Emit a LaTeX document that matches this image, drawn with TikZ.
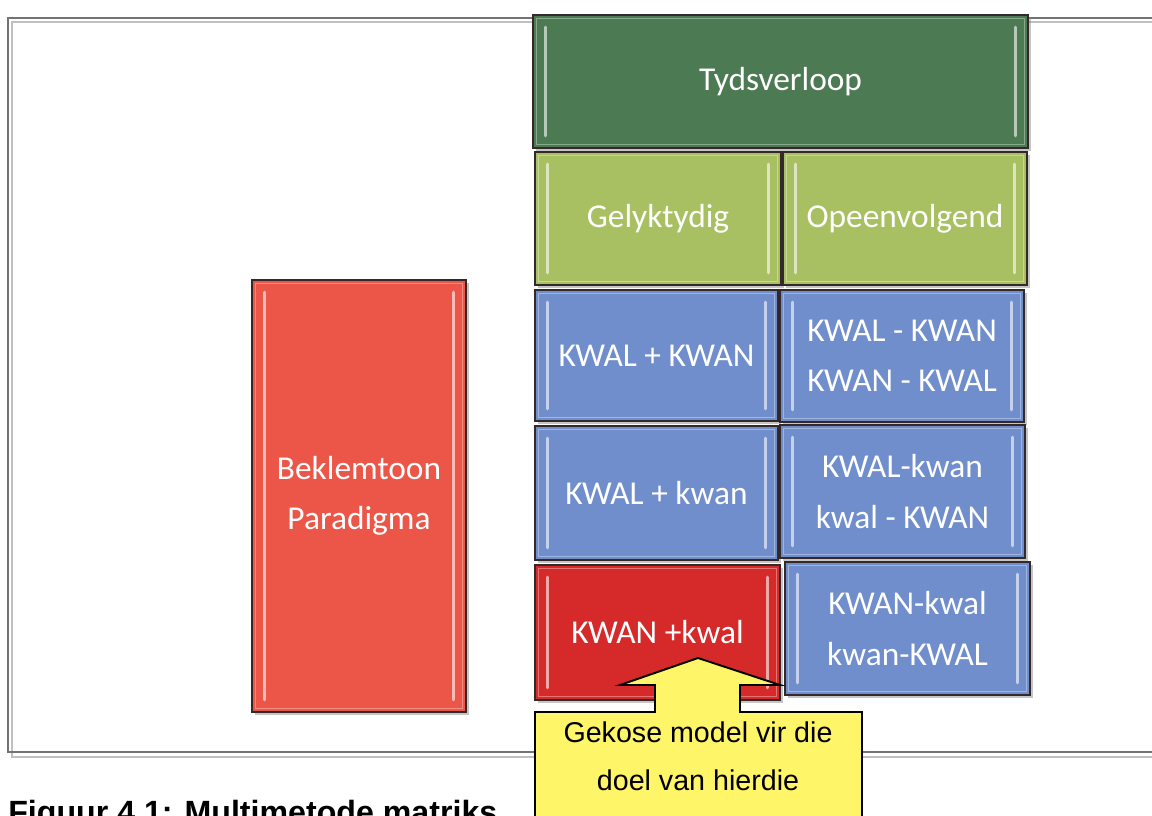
\documentclass[tikz,border=0pt]{standalone}
\usepackage{fontspec}
\usepackage{xcolor}
\usepackage{tikz}
\usetikzlibrary{shadows}
\newfontfamily\boxfont{Carlito}
\newfontfamily\notefont{Liberation Sans}
\definecolor{tydgreen}{RGB}{76,122,82}
\definecolor{tydlime}{RGB}{168,192,98}
\definecolor{kwalblue}{RGB}{112,142,204}
\definecolor{paradred}{RGB}{236,86,72}
\definecolor{modelred}{RGB}{214,42,42}
\definecolor{noteyellow}{RGB}{255,245,104}
\definecolor{tileedge}{RGB}{52,40,40}
\definecolor{framegray}{RGB}{115,115,115}

\begin{document}
\begin{tikzpicture}[x=0.02cm,y=-0.02cm,
	tile/.style={draw=tileedge,line width=1.1pt,text=white,align=center,inner sep=0pt,
		font=\boxfont\fontsize{19}{28.5}\selectfont,
		drop shadow={shadow xshift=1.5pt,shadow yshift=-1.5pt,opacity=0.45},
		path picture={
			\draw[white,opacity=0.35,line width=1pt] ([shift={(2pt,-2pt)}]path picture bounding box.north west) rectangle ([shift={(-2pt,2pt)}]path picture bounding box.south east);
			\draw[white,opacity=0.6,line width=2pt,line cap=round] ([shift={(7pt,-7pt)}]path picture bounding box.north west) -- ([shift={(7pt,7pt)}]path picture bounding box.south west);
			\draw[white,opacity=0.6,line width=2pt,line cap=round] ([shift={(-7pt,-7pt)}]path picture bounding box.north east) -- ([shift={(-7pt,7pt)}]path picture bounding box.south east);
		}},
	notetext/.style={anchor=base,inner sep=0pt,font=\notefont\fontsize{16.3}{20}\selectfont}]
					\useasboundingbox (0,0) rectangle (1152,815);
					\clip (0,0) rectangle (1152,815);
					\fill[white] (0,0) rectangle (1152,815);
					
					\coordinate (c1) at (780.5,81.5);
					\coordinate (c2) at (658,218.5);
					\coordinate (c3) at (905,218.5);
					\coordinate (c4) at (656.5,355.5);
					\coordinate (c5) at (902,356);
					\coordinate (c6) at (656.5,493);
					\coordinate (c7) at (902.5,491.5);
					\coordinate (c8) at (657.5,632.5);
					\coordinate (c9) at (907.5,628.5);
					\coordinate (c10) at (359,496);
					\coordinate (tip) at (698,658);
					
					\draw[color=framegray!45,line width=0.9pt] (12,22) rectangle (1175,757);
					\draw[color=framegray,line width=1.2pt] (8,18) rectangle (1170,752);
					
					\node (tyd) at (c1) [tile,fill=tydgreen,minimum width=9.9cm,minimum height=2.66cm] {Tydsverloop};
					\node (gel) at (c2) [tile,fill=tydlime,minimum width=4.92cm,minimum height=2.66cm] {Gelyktydig};
					\node (ope) at (c3) [tile,fill=tydlime,minimum width=4.88cm,minimum height=2.66cm] {Opeenvolgend};
					\node (gelKK) at (c4) [tile,fill=kwalblue,minimum width=4.86cm,minimum height=2.62cm] {KWAL + KWAN};
					\node (opeKK) at (c5) [tile,fill=kwalblue,minimum width=4.88cm,minimum height=2.64cm] {KWAL - KWAN\\KWAN - KWAL};
					\node (gelKk) at (c6) [tile,fill=kwalblue,minimum width=4.86cm,minimum height=2.68cm] {KWAL + kwan};
					\node (opeKk) at (c7) [tile,fill=kwalblue,minimum width=4.9cm,minimum height=2.66cm] {KWAL-kwan\\kwal - KWAN};
					\node (gelkK) at (c8) [tile,fill=modelred,minimum width=4.9cm,minimum height=2.7cm] {KWAN +kwal};
					\node (opekK) at (c9) [tile,fill=kwalblue,minimum width=4.9cm,minimum height=2.66cm] {KWAN-kwal\\kwan-KWAL};
					\node (bek) at (c10) [tile,fill=paradred,minimum width=4.28cm,minimum height=8.64cm] {Beklemtoon\\Paradigma};
					
					\draw[fill=noteyellow,draw=black,line width=1.1pt] (535,712) -- (655,712) -- (655,685) -- (620,685) -- (tip) -- (780,685) -- (740,685) -- (740,712) -- (862,712) -- (862,840) -- (535,840) -- cycle;
					\node (gekose) at (698,742) [notetext] {Gekose model vir die};
					\node (doel) at (698,790) [notetext] {doel van hierdie};
					
					\node (figuur) at (8,823) [anchor=base west,inner sep=0pt,font=\notefont\bfseries\fontsize{18.3}{22}\selectfont] {Figuur 4.1: Multimetode matriks};
				\end{tikzpicture}
\end{document}
